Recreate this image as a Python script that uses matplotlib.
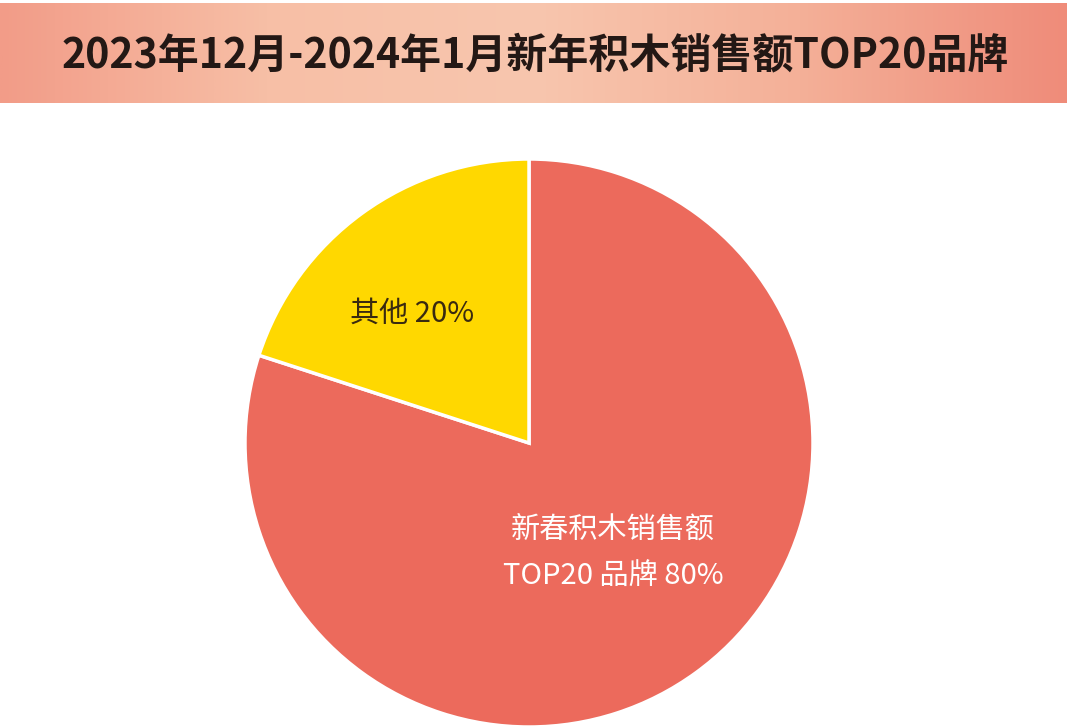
import numpy as np
import matplotlib.pyplot as plt
from matplotlib.colors import LinearSegmentedColormap

plt.rcParams['font.family'] = ['Noto Sans CJK SC', 'DejaVu Sans']

labels = ['新春积木销售额\nTOP20 品牌 80%', '其他 20%']
values = [80, 20]
colors = ['#EC6A5C', '#FFD800']
title = '2023年12月-2024年1月新年积木销售额TOP20品牌'

W, H = 1080, 727
fig = plt.figure(figsize=(W / 100, H / 100), dpi=100)

# 标题背景渐变
bax = fig.add_axes([0, 1 - 103 / H, 1067 / W, 100 / H])
cmap = LinearSegmentedColormap.from_list(
    'banner', ['#F29C88', '#F7BFA6', '#F8C6AE', '#F4B098', '#EF8C7A'])
grad = np.linspace(0, 1, 512).reshape(1, -1)
bax.imshow(grad, aspect='auto', cmap=cmap, extent=[0, 1, 0, 1])
bax.set_axis_off()
bax.text(0.502, 0.48, title, ha='center', va='center', fontsize=29.5,
         fontweight='heavy', color='#231815', transform=bax.transAxes)

# 饼图
ax = fig.add_axes([245 / W, 0, 568 / W, 568 / H])
ax.pie(values, colors=colors, startangle=90, counterclock=False,
       wedgeprops=dict(edgecolor='white', linewidth=2.5))
ax.set_xlim(-1, 1)
ax.set_ylim(-1, 1)
ax.set_aspect('equal')

fig.text(412 / W, 1 - 314 / H, labels[1], ha='center', va='center',
         fontsize=21, fontweight='light', color='#3A2A10')
fig.text(613 / W, 1 - 553 / H, labels[0], ha='center', va='center',
         fontsize=21, fontweight='light', color='white', linespacing=1.7)

fig.savefig('out.png', dpi=100)
